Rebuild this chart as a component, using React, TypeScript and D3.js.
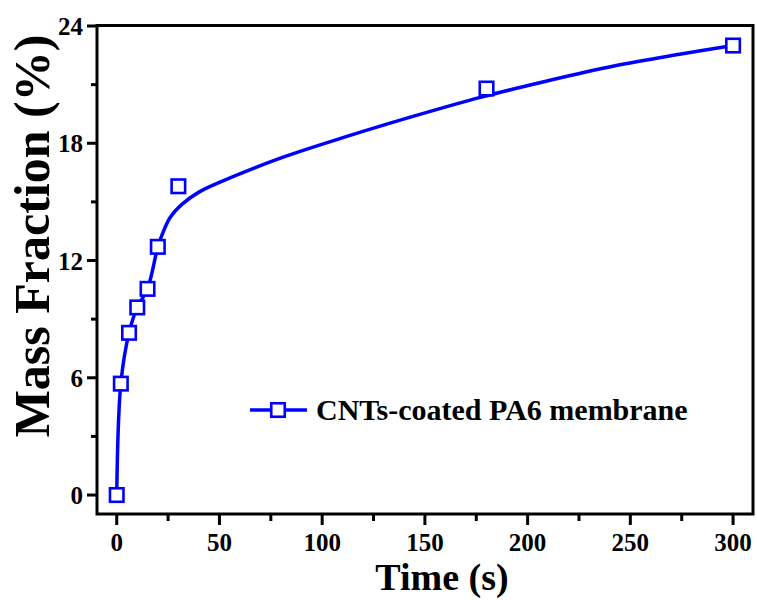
import React from "react";
import * as d3 from "d3";

const pointTimes = [0, 2, 6, 10, 15, 20, 30, 180, 300];
const pointValues = [0, 5.7, 8.3, 9.6, 10.55, 12.7, 15.8, 20.8, 23.0];

const fitTimes = [0, 2, 6, 10, 15, 20, 22, 26, 32, 40, 50, 80, 112, 145, 177, 210, 242, 274, 300];
const fitValues = [0, 5.7, 8.3, 9.6, 10.55, 12.7, 13.3, 14.2, 14.9, 15.5, 16.0, 17.25, 18.35, 19.4, 20.35, 21.2, 21.95, 22.55, 23.0];

const xTicks = [0, 50, 100, 150, 200, 250, 300];
const xMinor = [25, 75, 125, 175, 225, 275];
const yTicks = [0, 6, 12, 18, 24];
const yMinor = [3, 9, 15, 21];

const seriesName = "CNTs-coated PA6 membrane";
const xTitle = "Time (s)";
const yTitle = "Mass Fraction (%)";

const W = 757;
const H = 600;
const L = 97, R = 753, T = 26, B = 514;
const BLUE = "#0000ff";
const FONT = "'Liberation Serif', 'Times New Roman', serif";

export default function App() {
  const x = d3.scaleLinear().domain([-9.6, 309.7]).range([L, R]);
  const y = d3.scaleLinear().domain([-0.97, 24]).range([B, T]);

  const line = d3
    .line<number>()
    .x((_, i) => x(fitTimes[i]))
    .y((d) => y(d))
    .curve(d3.curveCatmullRom.alpha(0.5));

  const ms = 13.5;

  return (
    <div style={{ position: "absolute", left: 0, top: 0 }}>
      <svg width={W} height={H} style={{ display: "block", background: "#fff" }}>
        <path d={line(fitValues) || ""} fill="none" stroke={BLUE} strokeWidth={3.5} strokeLinejoin="round" />
        {pointTimes.map((t, i) => (
          <rect
            key={i}
            x={x(t) - ms / 2}
            y={y(pointValues[i]) - ms / 2}
            width={ms}
            height={ms}
            fill="#fff"
            stroke={BLUE}
            strokeWidth={2.6}
          />
        ))}
        {/* frame */}
        <rect x={L} y={T - 0.5} width={R - L} height={B - T + 0.5} fill="none" stroke="#000" strokeWidth={3} />
        {/* x ticks */}
        {xTicks.map((t) => (
          <g key={"xt" + t}>
            <line x1={x(t)} x2={x(t)} y1={B} y2={B + 11} stroke="#000" strokeWidth={3} />
            <text
              x={x(t)}
              y={B + 37}
              textAnchor="middle"
              fontFamily={FONT}
              fontWeight="bold"
              fontSize={25}
            >
              {t}
            </text>
          </g>
        ))}
        {xMinor.map((t) => (
          <line key={"xm" + t} x1={x(t)} x2={x(t)} y1={B} y2={B + 7} stroke="#000" strokeWidth={3} />
        ))}
        {yTicks.map((t) => (
          <g key={"yt" + t}>
            <line x1={L - 10} x2={L} y1={y(t)} y2={y(t)} stroke="#000" strokeWidth={3} />
            <text
              x={L - 14}
              y={y(t) + 9}
              textAnchor="end"
              fontFamily={FONT}
              fontWeight="bold"
              fontSize={25}
            >
              {t}
            </text>
          </g>
        ))}
        {yMinor.map((t) => (
          <line key={"ym" + t} x1={L - 6} x2={L} y1={y(t)} y2={y(t)} stroke="#000" strokeWidth={3} />
        ))}
        {/* axis titles */}
        <text
          x={442}
          y={590}
          textAnchor="middle"
          fontFamily={FONT}
          fontWeight="bold"
          fontSize={38}
        >
          {xTitle}
        </text>
        <text
          transform={`translate(49,236) rotate(-90)`}
          textAnchor="middle"
          fontFamily={FONT}
          fontWeight="bold"
          fontSize={50}
        >
          {yTitle}
        </text>
        {/* legend */}
        <line x1={250} x2={307} y1={410} y2={410} stroke={BLUE} strokeWidth={3.5} />
        <rect x={278 - ms / 2} y={410 - ms / 2} width={ms} height={ms} fill="#fff" stroke={BLUE} strokeWidth={2.6} />
        <text x={316} y={420} fontFamily={FONT} fontWeight="bold" fontSize={30}>
          {seriesName}
        </text>
      </svg>
    </div>
  );
}
